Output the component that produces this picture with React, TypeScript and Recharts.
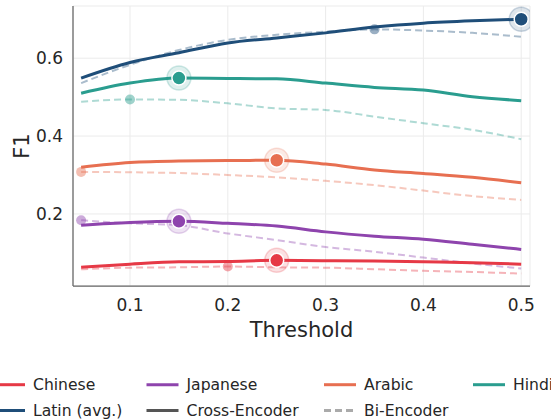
import React from "react";
import { LineChart, Line, XAxis, YAxis, CartesianGrid } from "recharts";

const thresholds = [0.05, 0.1, 0.15, 0.2, 0.25, 0.3, 0.35, 0.4, 0.45, 0.5];
const xTicks = [0.1, 0.2, 0.3, 0.4, 0.5];
const yTicks = [0.2, 0.4, 0.6];

const chineseCross = [0.063, 0.071, 0.077, 0.078, 0.081, 0.080, 0.079, 0.077, 0.075, 0.071];
const chineseBi = [0.058, 0.062, 0.063, 0.065, 0.063, 0.062, 0.058, 0.054, 0.051, 0.047];
const japaneseCross = [0.171, 0.178, 0.181, 0.176, 0.169, 0.154, 0.143, 0.135, 0.122, 0.109];
const japaneseBi = [0.184, 0.176, 0.171, 0.150, 0.133, 0.115, 0.103, 0.088, 0.073, 0.060];
const arabicCross = [0.320, 0.332, 0.336, 0.337, 0.338, 0.328, 0.313, 0.304, 0.294, 0.280];
const arabicBi = [0.308, 0.307, 0.305, 0.300, 0.294, 0.285, 0.274, 0.260, 0.246, 0.236];
const hindiCross = [0.510, 0.536, 0.549, 0.548, 0.547, 0.536, 0.525, 0.518, 0.501, 0.491];
const hindiBi = [0.488, 0.494, 0.493, 0.484, 0.471, 0.467, 0.450, 0.433, 0.416, 0.392];
const latinCross = [0.549, 0.589, 0.614, 0.639, 0.652, 0.665, 0.680, 0.690, 0.696, 0.700];
const latinBi = [0.536, 0.583, 0.621, 0.647, 0.660, 0.668, 0.674, 0.671, 0.665, 0.655];

const languages = [
  { key: "chinese", label: "Chinese", color: "#e63946", cross: chineseCross, bi: chineseBi },
  { key: "japanese", label: "Japanese", color: "#8e44ad", cross: japaneseCross, bi: japaneseBi },
  { key: "arabic", label: "Arabic", color: "#e76f51", cross: arabicCross, bi: arabicBi },
  { key: "hindi", label: "Hindi", color: "#2a9d8f", cross: hindiCross, bi: hindiBi },
  { key: "latin", label: "Latin (avg.)", color: "#1f4e79", cross: latinCross, bi: latinBi },
];

const data = thresholds.map((t, i) => {
  const row: Record<string, number> = { t };
  languages.forEach((l) => {
    row[l.key + "Cross"] = l.cross[i];
    row[l.key + "Bi"] = l.bi[i];
  });
  return row;
});

const argmax = (arr: number[]) => arr.reduce((b, v, i) => (v > arr[b] ? i : b), 0);

const FONT = "DejaVu Sans";
const TEXT = "#262626";

const bigDot = (color: string, best: number) => (props: any) => {
  const { cx, cy, index } = props;
  if (index !== best) return <g key={"bd" + index} />;
  return (
    <g key={"bd" + index}>
      <circle cx={cx} cy={cy} r={12} fill={color} fillOpacity={0.15} stroke={color} strokeOpacity={0.22} strokeWidth={1.5} />
      <circle cx={cx} cy={cy} r={7} fill={color} stroke="#fff" strokeWidth={1.5} />
    </g>
  );
};

const smallDot = (color: string, best: number) => (props: any) => {
  const { cx, cy, index } = props;
  if (index !== best) return <g key={"sd" + index} />;
  return <circle key={"sd" + index} cx={cx} cy={cy} r={5} fill={color} fillOpacity={0.45} />;
};

const legendItems = [
  { label: "Chinese", color: "#e63946", dash: false, x: -7, row: 0 },
  { label: "Japanese", color: "#8e44ad", dash: false, x: 146.5, row: 0 },
  { label: "Arabic", color: "#e76f51", dash: false, x: 324, row: 0 },
  { label: "Hindi", color: "#2a9d8f", dash: false, x: 473, row: 0 },
  { label: "Latin (avg.)", color: "#1f4e79", dash: false, x: -7, row: 1 },
  { label: "Cross-Encoder", color: "#555555", dash: false, x: 146.5, row: 1 },
  { label: "Bi-Encoder", color: "#aaaaaa", dash: true, x: 324, row: 1 },
];

export default function App() {
  return (
    <div style={{ position: "absolute", left: 0, top: 0, width: 551, height: 419, background: "#fff" }}>
      <LineChart width={551} height={419} data={data} margin={{ top: 6, right: 21, left: 0, bottom: 73 }}>
        <CartesianGrid stroke="#ebebeb" strokeWidth={1} />
        <XAxis
          dataKey="t"
          type="number"
          domain={[0.0417, 0.509]}
          ticks={xTicks}
          allowDataOverflow
          height={60}
          tickSize={0}
          tickMargin={0}
          tickLine={false}
          axisLine={{ stroke: "#666", strokeWidth: 1.25 }}
          tick={({ x, y, payload }: any) => (
            <text x={x} y={y + 25} textAnchor="middle" fontSize={17} fontFamily={FONT} fill={TEXT}>
              {payload.value}
            </text>
          )}
          label={{
            content: ({ viewBox }: any) => (
              <text x={viewBox.x + viewBox.width / 2} y={viewBox.y + 50.5} textAnchor="middle" fontSize={21} fontFamily={FONT} fill={TEXT}>
                Threshold
              </text>
            ),
          }}
        />
        <YAxis
          type="number"
          domain={[0.015, 0.734]}
          ticks={yTicks}
          allowDataOverflow
          width={73}
          tickSize={0}
          tickMargin={0}
          tickLine={false}
          axisLine={{ stroke: "#666", strokeWidth: 1.25 }}
          tick={({ x, y, payload }: any) => (
            <text x={x - 10} y={y + 6} textAnchor="end" fontSize={17} fontFamily={FONT} fill={TEXT}>
              {payload.value}
            </text>
          )}
          label={{
            content: ({ viewBox }: any) => {
              const cy = viewBox.y + viewBox.height / 2;
              return (
                <text x={29} y={cy} transform={`rotate(-90, 29, ${cy})`} textAnchor="middle" fontSize={21} fontFamily={FONT} fill={TEXT}>
                  F1
                </text>
              );
            },
          }}
        />
        {languages.map((l) => (
          <Line
            key={l.key + "Bi"}
            dataKey={l.key + "Bi"}
            type="monotone"
            stroke={l.color}
            strokeOpacity={0.38}
            strokeWidth={2}
            strokeDasharray="7 4"
            dot={smallDot(l.color, argmax(l.bi))}
            activeDot={false}
            isAnimationActive={false}
          />
        ))}
        {languages.map((l) => (
          <Line
            key={l.key + "Cross"}
            dataKey={l.key + "Cross"}
            type="monotone"
            stroke={l.color}
            strokeWidth={3}
            dot={bigDot(l.color, argmax(l.cross))}
            activeDot={false}
            isAnimationActive={false}
          />
        ))}
      </LineChart>
      <svg width={551} height={419} style={{ position: "absolute", left: 0, top: 0, pointerEvents: "none" }}>
        {legendItems.map((it) => {
          const y = it.row === 0 ? 384.7 : 410.5;
          return (
            <g key={it.label}>
              <line
                x1={it.x}
                x2={it.x + 32}
                y1={y}
                y2={y}
                stroke={it.color}
                strokeWidth={3}
                strokeDasharray={it.dash ? "7 4" : undefined}
              />
              <text x={it.x + 40} y={y + 5.6} fontSize={15.6} fontFamily={FONT} fill={TEXT}>
                {it.label}
              </text>
            </g>
          );
        })}
      </svg>
    </div>
  );
}
